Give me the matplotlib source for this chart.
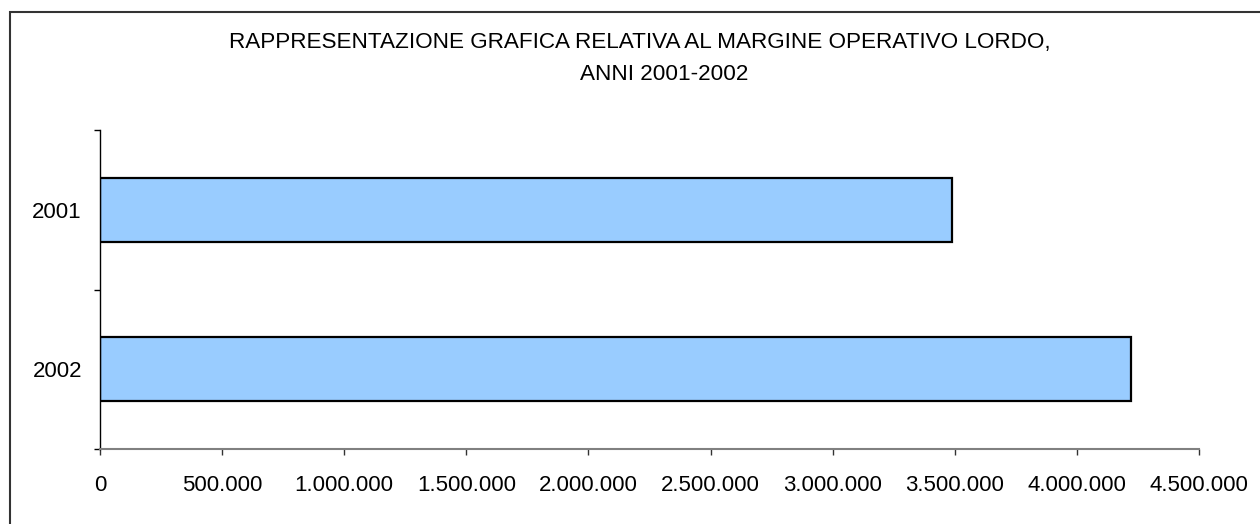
import matplotlib.pyplot as plt
from matplotlib.patches import Rectangle
from matplotlib.ticker import FuncFormatter, FixedLocator

# Dati
anni = ["2002", "2001"]
mol = [4221000, 3488000]
x_ticks = [0, 500000, 1000000, 1500000, 2000000, 2500000, 3000000, 3500000, 4000000, 4500000]

titolo_1 = "RAPPRESENTAZIONE GRAFICA RELATIVA AL MARGINE OPERATIVO LORDO,"
titolo_2 = "ANNI 2001-2002"

plt.rcParams["font.family"] = ["Liberation Sans", "DejaVu Sans"]

W, H = 1260, 524
fig = plt.figure(figsize=(W / 100, H / 100), dpi=100)
ax = fig.add_axes([100 / W, (H - 449) / H, 1099 / W, 319 / H])

pos = [0.5, 1.5]
ax.barh(pos, mol, height=0.4, color="#99CCFF", edgecolor="black", linewidth=1.6)

ax.set_xlim(0, 4500000)
ax.set_ylim(0, 2)

ax.xaxis.set_major_locator(FixedLocator(x_ticks))
ax.xaxis.set_major_formatter(FuncFormatter(lambda v, p: f"{int(v):,}".replace(",", ".")))

ax.yaxis.set_major_locator(FixedLocator([0, 1, 2]))
ax.yaxis.set_major_formatter(FuncFormatter(lambda v, p: ""))
ax.yaxis.set_minor_locator(FixedLocator(pos))
ax.set_yticklabels(anni, minor=True)

ax.tick_params(axis="x", direction="out", length=4.5, width=1, color="#333333",
               labelsize=16, pad=14)
ax.tick_params(axis="y", which="major", direction="out", length=4.5, width=1, color="black")
ax.tick_params(axis="y", which="minor", length=0, labelsize=16, pad=13)

for s in ["top", "right"]:
    ax.spines[s].set_visible(False)
ax.spines["left"].set_color("black")
ax.spines["left"].set_linewidth(1)
ax.spines["bottom"].set_color("#808080")
ax.spines["bottom"].set_linewidth(1.5)

fig.text(640 / W, 1 - 42.5 / H, titolo_1, ha="center", va="center", fontsize=16.2)
fig.text(664 / W, 1 - 74.5 / H, titolo_2, ha="center", va="center", fontsize=16.2)

# cornice esterna
fig.patches.append(Rectangle((10 / W, -0.1), 1.2, 1 - 12 / H + 0.1, transform=fig.transFigure,
                             fill=False, edgecolor="#333333", linewidth=1.5))

fig.savefig("out.png", dpi=100)
